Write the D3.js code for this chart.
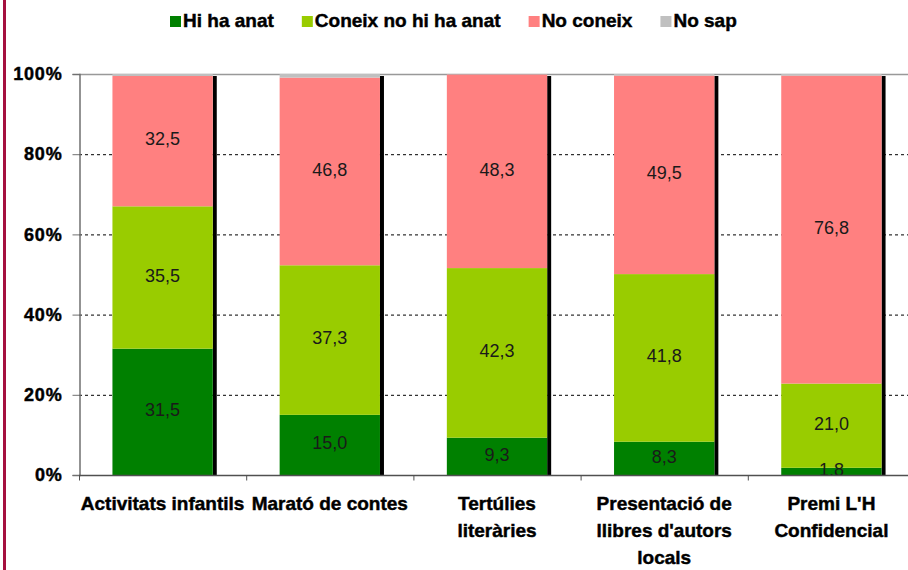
<!DOCTYPE html>
<html lang="ca">
<head>
    <meta charset="UTF-8">
    <title>Activitats</title>
    <script src="https://cdn.jsdelivr.net/npm/d3@7/dist/d3.min.js"></script>
    <style>
        body {
            margin: 0;
            background: #ffffff;
        }

        #graphDiv {
            width: 908px;
            height: 570px;
        }

        .boldTxt {
            font-family: "Liberation Sans", Arial, sans-serif;
            font-weight: bold;
            fill: #000;
            stroke: #000;
            stroke-width: 0.45px;
        }

        .valTxt {
            font-family: "Liberation Sans", Arial, sans-serif;
            font-size: 18px;
            fill: #1a1a1a;
        }
    </style>
</head>
<body>
<div id="graphDiv"></div>
<script>
    // dades llegides del grafic
    var categories = ["Activitats infantils", "Marató de contes", "Tertúlies literàries",
        "Presentació de llibres d'autors locals", "Premi L'H Confidencial"];
    var categoryLines = [
        ["Activitats infantils"],
        ["Marató de contes"],
        ["Tertúlies", "literàries"],
        ["Presentació de", "llibres d'autors", "locals"],
        ["Premi L'H", "Confidencial"]
    ];
    var seriesNames = ["Hi ha anat", "Coneix no hi ha anat", "No coneix", "No sap"];
    var hiHaAnat = [31.5, 15.0, 9.3, 8.3, 1.8];
    var coneixNoAnat = [35.5, 37.3, 42.3, 41.8, 21.0];
    var noConeix = [32.5, 46.8, 48.3, 49.5, 76.8];
    var noSap = [0.5, 0.9, 0.1, 0.4, 0.4];
    var yTicks = [0, 20, 40, 60, 80, 100];
    var colors = ["#008000", "#99cc00", "#ff8080", "#c0c0c0"];

    function drawChart() {
        var selector = "#graphDiv";
        var w0 = 908;
        var h0 = 570;
        var left = 79, right = 915, top = 74, bottom = 475;

        var svg = d3.select(selector).append("svg")
            .attr("width", w0)
            .attr("height", h0);

        // linia vermella del marge
        svg.append("rect")
            .attr("x", 3).attr("y", 0)
            .attr("width", 3).attr("height", h0)
            .style("fill", "#a5103f");

        var x = d3.scaleBand().domain(categories).range([left, right]).paddingInner(0.4).paddingOuter(0.2);
        var xb = d3.scaleBand().domain(categories).range([left, right]);
        var y = d3.scaleLinear().domain([0, 100]).range([bottom, top]);

        var rows = categories.map(function (c, i) {
            return {cat: c, s0: hiHaAnat[i], s1: coneixNoAnat[i], s2: noConeix[i], s3: noSap[i]};
        });
        var stack = d3.stack().keys(["s0", "s1", "s2", "s3"]);
        var stacked = stack(rows);

        // linies de la graella
        svg.append("g").selectAll("line")
            .data(yTicks.filter(function (t) {
                return t > 0 && t < 100;
            }))
            .enter().append("line")
            .attr("x1", left).attr("x2", right)
            .attr("y1", function (d) {
                return y(d) + 0.5;
            })
            .attr("y2", function (d) {
                return y(d) + 0.5;
            })
            .style("stroke", "#000")
            .style("stroke-width", 1)
            .style("stroke-dasharray", "3,3");

        // vora superior
        svg.append("line")
            .attr("x1", left).attr("x2", right)
            .attr("y1", top + 0.5).attr("y2", top + 0.5)
            .style("stroke", "#999")
            .style("stroke-width", 1.5);

        // ombres
        svg.append("g").selectAll("rect")
            .data(rows).enter().append("rect")
            .attr("x", function (d) {
                return x(d.cat) + x.bandwidth();
            })
            .attr("y", function (d) {
                return y(d3.sum([d.s0, d.s1, d.s2, d.s3])) + 2;
            })
            .attr("width", 4)
            .attr("height", function (d) {
                return bottom - y(d3.sum([d.s0, d.s1, d.s2, d.s3])) - 2;
            })
            .style("fill", "#000");

        var clip = svg.append("clipPath").attr("id", "plotClip")
            .append("rect")
            .attr("x", left).attr("y", top)
            .attr("width", right - left).attr("height", bottom - top);

        var layers = svg.append("g").selectAll("g")
            .data(stacked).enter().append("g")
            .style("fill", function (d, i) {
                return colors[i];
            });

        layers.selectAll("rect")
            .data(function (d) {
                return d;
            })
            .enter().append("rect")
            .attr("x", function (d) {
                return x(d.data.cat);
            })
            .attr("y", function (d) {
                return y(d[1]);
            })
            .attr("width", x.bandwidth())
            .attr("height", function (d) {
                return y(d[0]) - y(d[1]);
            });

        // etiquetes de valors
        var fmt = d3.format(".1f");
        var labels = svg.append("g").attr("clip-path", "url(#plotClip)");
        stacked.slice(0, 3).forEach(function (layer) {
            labels.selectAll(null)
                .data(layer).enter().append("text")
                .attr("class", "valTxt")
                .attr("text-anchor", "middle")
                .attr("x", function (d) {
                    return x(d.data.cat) + x.bandwidth() / 2;
                })
                .attr("y", function (d) {
                    return (y(d[0]) + y(d[1])) / 2 - 2;
                })
                .attr("dy", "0.35em")
                .text(function (d) {
                    return fmt(d[1] - d[0]).replace(".", ",");
                });
        });

        // eix Y
        var yAxis = d3.axisLeft(y).tickValues(yTicks).tickSize(7).tickFormat(function (d) {
            return d + "%";
        });
        var gy = svg.append("g").attr("transform", "translate(" + (left + 0.5) + ",0)").call(yAxis);
        gy.select(".domain").style("stroke", "#707070").style("stroke-width", 1.5);
        gy.selectAll(".tick line").style("stroke", "#707070");
        gy.selectAll(".tick text")
            .attr("class", "boldTxt")
            .attr("x", -17)
            .style("font-size", "18px")
            .style("letter-spacing", "0.8px");

        // eix X
        var gx = svg.append("g").attr("transform", "translate(0," + (bottom + 0.5) + ")");
        gx.append("line")
            .attr("x1", left).attr("x2", right)
            .style("stroke", "#505050").style("stroke-width", 1.5);
        gx.selectAll("line.tk")
            .data(categories).enter().append("line")
            .attr("class", "tk")
            .attr("x1", function (d) {
                return xb(d) + 0.5;
            })
            .attr("x2", function (d) {
                return xb(d) + 0.5;
            })
            .attr("y1", 0).attr("y2", 5)
            .style("stroke", "#505050");

        var catTxt = svg.append("g").selectAll("text")
            .data(categories).enter().append("text")
            .attr("class", "boldTxt")
            .attr("text-anchor", "middle")
            .style("font-size", "19px")
            .attr("transform", function (d) {
                return "translate(" + (xb(d) + xb.bandwidth() / 2) + ",510)";
            });
        catTxt.selectAll("tspan")
            .data(function (d, i) {
                return categoryLines[i];
            })
            .enter().append("tspan")
            .attr("x", 0)
            .attr("y", function (d, i) {
                return i * 27;
            })
            .text(function (d) {
                return d;
            });

        // llegenda
        var lx = 170;
        var legend = svg.append("g");
        seriesNames.forEach(function (name, i) {
            legend.append("rect")
                .attr("x", lx).attr("y", 16)
                .attr("width", 11).attr("height", 11)
                .style("fill", colors[i]);
            var t = legend.append("text")
                .attr("class", "boldTxt")
                .attr("x", lx + 13).attr("y", 27)
                .style("font-size", "19px")
                .text(name);
            lx += 13 + t.node().getComputedTextLength() + 28;
        });
    }

    drawChart();
</script>
</body>
</html>
